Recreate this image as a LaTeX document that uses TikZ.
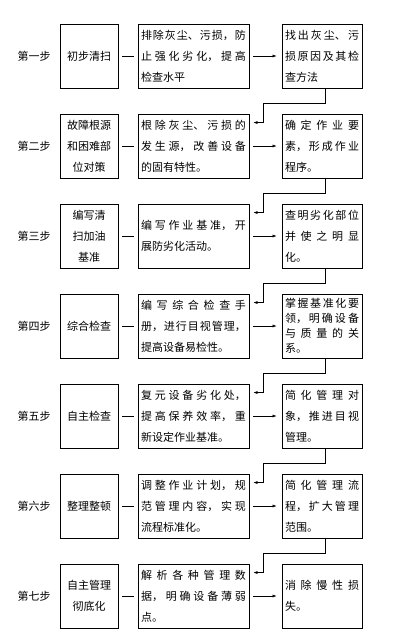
\documentclass[tikz,border=0pt]{standalone}
\usepackage{fontspec}
\setmainfont{Noto Sans CJK SC}
\usepackage{tikz}
\usetikzlibrary{
  	positioning,
  	arrows.meta,
  	calc
  }
\XeTeXlinebreaklocale "zh"
\XeTeXlinebreakskip=0pt plus 20pt
\tolerance=10000
\hbadness=10000
\newcommand\nocjkstretch{\XeTeXlinebreakskip=0pt\relax}
\tikzstyle{stagebox}=[draw,line width=.9pt,minimum width=58pt,minimum height=64pt,inner sep=3pt,text width=52pt,align=center,font=\fontsize{11}{21}\selectfont\nocjkstretch]
\tikzstyle{actbox}=[draw,line width=.9pt,minimum width=111pt,minimum height=64pt,inner sep=3pt,text width=105pt,align=justify]
\tikzstyle{goalbox}=[draw,line width=.9pt,minimum width=80pt,minimum height=64pt,inner sep=3pt,text width=74pt,align=justify]

\begin{document}
\begin{tikzpicture}[x=1pt, y=-1pt, font=\fontsize{11}{21}\selectfont, >={Latex[length=4pt,width=3pt]}]
	\useasboundingbox (0,0) rectangle (400,634);
  	\node (lab1) at (34,56) {第一步};
	\node (lab2) at (34,146) {第二步};
	\node (lab3) at (34,236) {第三步};
	\node (lab4) at (34,326) {第四步};
	\node (lab5) at (34,416) {第五步};
	\node (lab6) at (34,506) {第六步};
	\node (lab7) at (34,596) {第七步};
	\node[stagebox] (stage1) at (89,56) {初步清扫};
	\node[stagebox] (stage2) at (89,146) {故障根源\\和困难部\\位对策};
	\node[stagebox] (stage3) at (89,236) {编写清\\扫加油\\基准};
	\node[stagebox] (stage4) at (89,326) {综合检查};
	\node[stagebox] (stage5) at (89,416) {自主检查};
	\node[stagebox] (stage6) at (89,506) {整理整顿};
	\node[stagebox] (stage7) at (89,596) {自主管理\\彻底化};
	\node[actbox] (act1) at (193.5,56) {排除灰尘、污损，防\linebreak 止强化劣化，提高\linebreak 检查水平};
	\node[actbox] (act2) at (193.5,146) {根除灰尘、污损的\linebreak 发生源，改善设备\linebreak 的固有特性。};
	\node[actbox] (act3) at (193.5,236) {编写作业基准，开\linebreak 展防劣化活动。};
	\node[actbox] (act4) at (193.5,326) {编写综合检查手\linebreak 册，进行目视管理，\linebreak 提高设备易检性。};
	\node[actbox] (act5) at (193.5,416) {复元设备劣化处，\linebreak 提高保养效率，重\linebreak 新设定作业基准。};
	\node[actbox] (act6) at (193.5,506) {调整作业计划，规\linebreak 范管理内容，实现\linebreak 流程标准化。};
	\node[actbox] (act7) at (193.5,596) {解析各种管理数\linebreak 据，明确设备薄弱\linebreak 点。};
	\node[goalbox] (goal1) at (322,56) {找出灰尘、污\linebreak 损原因及其检\linebreak 查方法};
	\node[goalbox] (goal2) at (322,146) {确定作业要\linebreak 素，形成作业\linebreak 程序。};
	\node[goalbox] (goal3) at (322,236) {查明劣化部位\linebreak 并使之明显\linebreak 化。};
	\node[goalbox, font=\fontsize{11}{15}\selectfont] (goal4) at (322,326) {掌握基准化要\linebreak 领，明确设备\linebreak 与质量的关\linebreak 系。};
	\node[goalbox] (goal5) at (322,416) {简化管理对\linebreak 象，推进目视\linebreak 管理。};
	\node[goalbox] (goal6) at (322,506) {简化管理流\linebreak 程，扩大管理\linebreak 范围。};
	\node[goalbox] (goal7) at (322,596) {消除慢性损\linebreak 失。};
	\draw[shorten <=4pt, shorten >=4pt] (stage1) to (act1);
	\draw[shorten <=4pt, shorten >=4pt] (stage2) to (act2);
	\draw[shorten <=4pt, shorten >=4pt] (stage3) to (act3);
	\draw[shorten <=4pt, shorten >=4pt] (stage4) to (act4);
	\draw[shorten <=4pt, shorten >=4pt] (stage5) to (act5);
	\draw[shorten <=4pt, shorten >=4pt] (stage6) to (act6);
	\draw[shorten <=4pt, shorten >=4pt] (stage7) to (act7);
	\draw[->, shorten <=4pt, shorten >=5pt] (act1) to (goal1);
	\draw[->, shorten <=4pt, shorten >=5pt] (act2) to (goal2);
	\draw[->, shorten <=4pt, shorten >=5pt] (act3) to (goal3);
	\draw[->, shorten <=4pt, shorten >=5pt] (act4) to (goal4);
	\draw[->, shorten <=4pt, shorten >=5pt] (act5) to (goal5);
	\draw[->, shorten <=4pt, shorten >=5pt] (act6) to (goal6);
	\draw[->, shorten <=4pt, shorten >=5pt] (act7) to (goal7);
	\draw[->, shorten >=4pt] ([xshift=3pt]goal1.south) -- ++(0,15) -| ([xshift=14pt,yshift=-9pt]act2.north east) -- ([yshift=-9pt]act2.north east);
	\draw[->, shorten >=4pt] ([xshift=3pt]goal2.south) -- ++(0,15) -| ([xshift=14pt,yshift=-9pt]act3.north east) -- ([yshift=-9pt]act3.north east);
	\draw[->, shorten >=4pt] ([xshift=3pt]goal3.south) -- ++(0,15) -| ([xshift=14pt,yshift=-9pt]act4.north east) -- ([yshift=-9pt]act4.north east);
	\draw[->, shorten >=4pt] ([xshift=3pt]goal4.south) -- ++(0,15) -| ([xshift=14pt,yshift=-9pt]act5.north east) -- ([yshift=-9pt]act5.north east);
	\draw[->, shorten >=4pt] ([xshift=3pt]goal5.south) -- ++(0,15) -| ([xshift=14pt,yshift=-9pt]act6.north east) -- ([yshift=-9pt]act6.north east);
	\draw[->, shorten >=4pt] ([xshift=3pt]goal6.south) -- ++(0,15) -| ([xshift=14pt,yshift=-9pt]act7.north east) -- ([yshift=-9pt]act7.north east);
\end{tikzpicture}
\end{document}
